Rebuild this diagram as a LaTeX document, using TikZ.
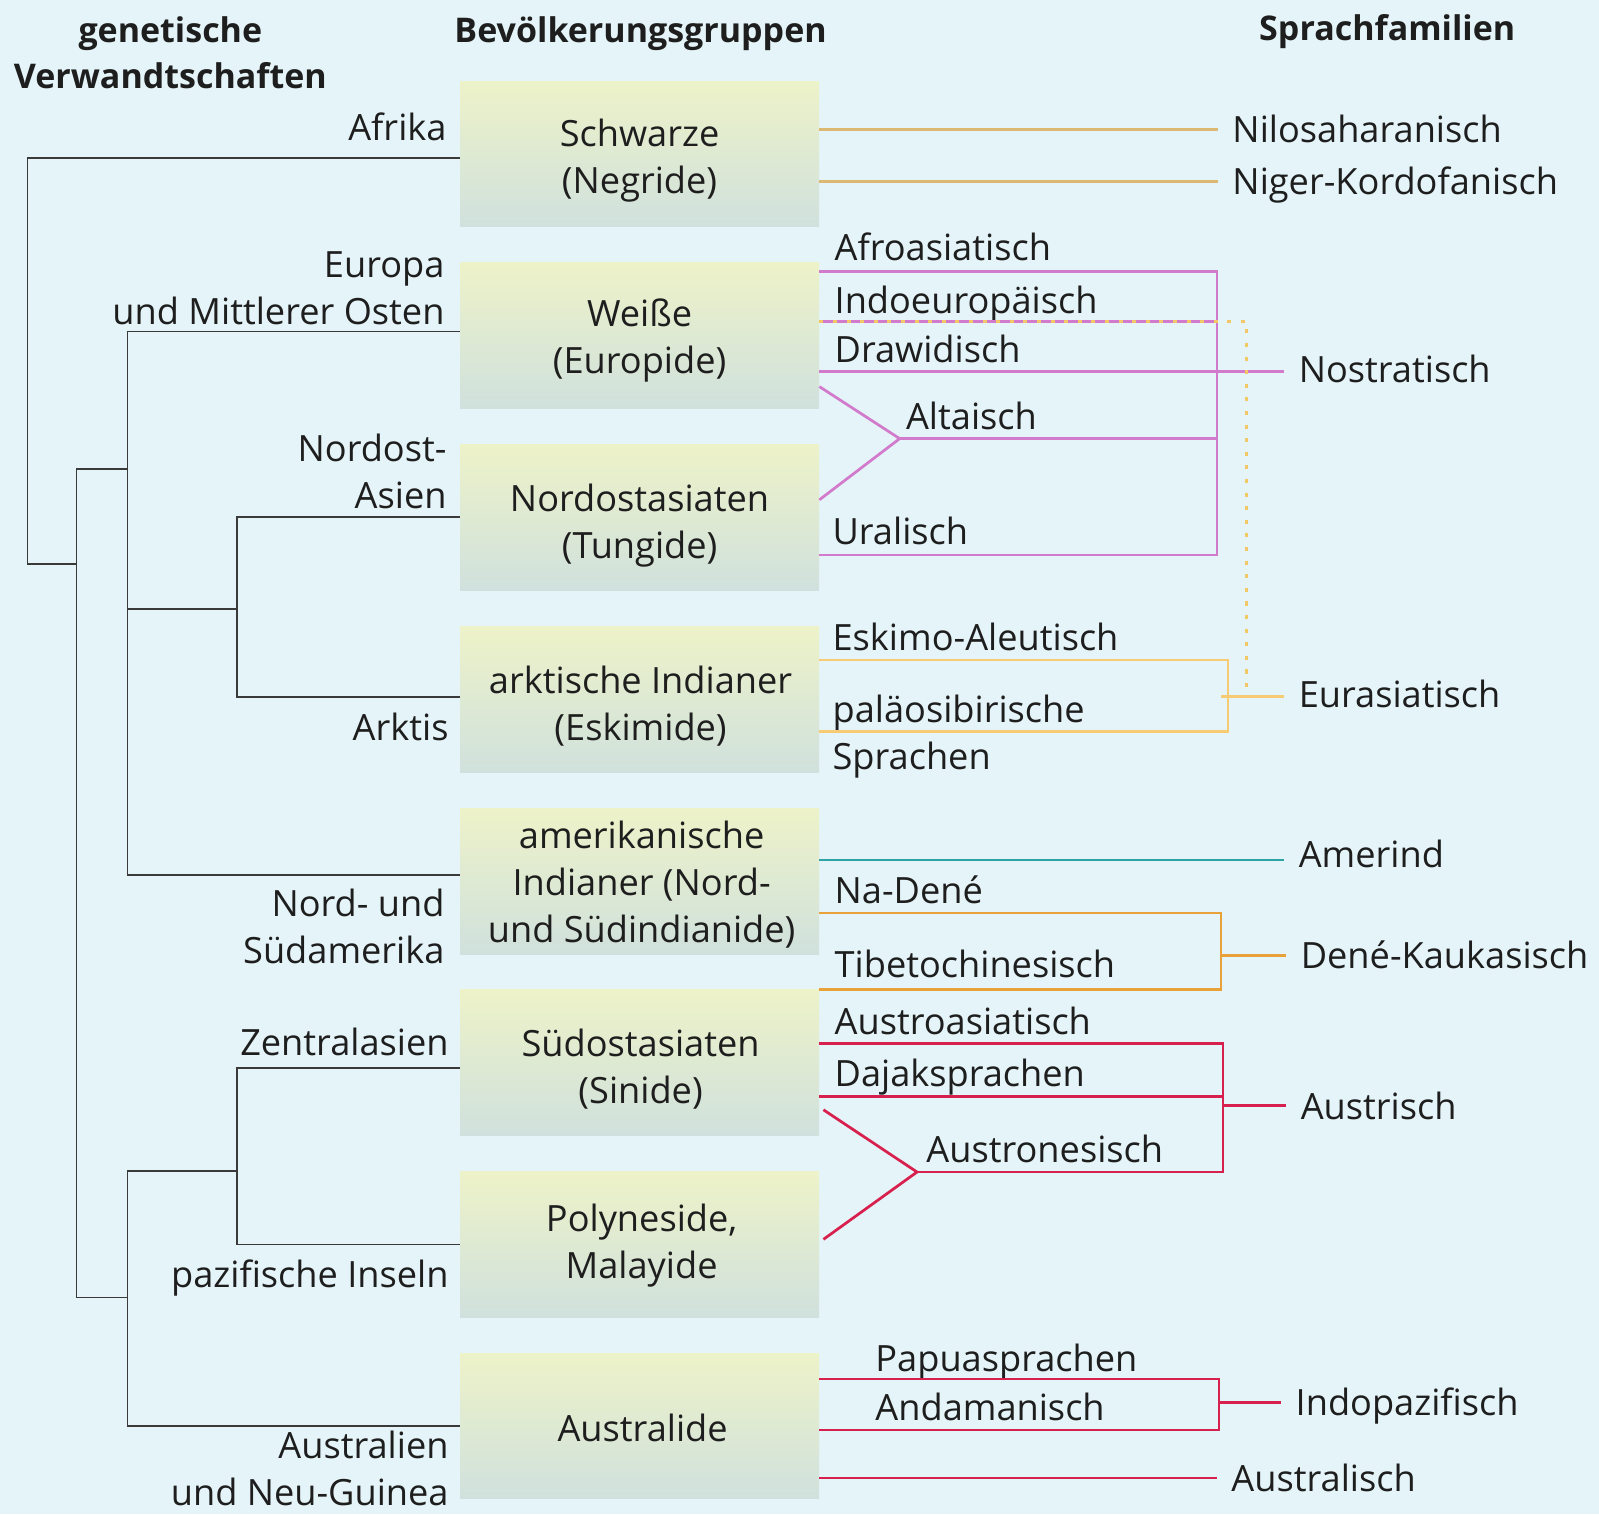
\documentclass[tikz,border=0pt]{standalone}
\usepackage{fontspec}
\setmainfont{Open Sans}
\usetikzlibrary{calc}
\definecolor{bg}{HTML}{E4F4F8}
\definecolor{boxtop}{HTML}{EDF2C8}
\definecolor{boxbot}{HTML}{D0E1DD}
\definecolor{treeC}{HTML}{3A3A3A}
\definecolor{txtC}{HTML}{1E1E1E}
\definecolor{tanC}{HTML}{DDB873}
\definecolor{pinkC}{HTML}{D27ACB}
\definecolor{yelC}{HTML}{F2C766}
\definecolor{euraC}{HTML}{F6CB72}
\definecolor{tealC}{HTML}{2EA3A5}
\definecolor{orC}{HTML}{E9A23A}
\definecolor{redC}{HTML}{D8204F}
\begin{document}
\begin{tikzpicture}[x=0.75pt,y=-0.75pt,
  every node/.style={font=\fontsize{26.6}{34.5}\selectfont, text=txtC},
  grp/.style={minimum width=264pt, minimum height=107.25pt, inner sep=0pt, top color=boxtop, bottom color=boxbot},
  gtxt/.style={inner sep=0pt, align=center},
  hdr/.style={font=\fontsize{25}{33.75}\selectfont\bfseries, inner sep=0pt},
  lab/.style={inner sep=0pt},
  sub/.style={inner sep=0pt, anchor=mid west},
  fam/.style={inner xsep=10.5pt, inner ysep=0pt, anchor=mid west},
  tree/.style={draw=treeC, line width=1.4pt},
  tanL/.style={draw=tanC, line width=2pt},
  pinkL/.style={draw=pinkC, line width=2pt},
  yelD/.style={draw=yelC, line width=2pt, dash pattern=on 3pt off 7pt},
  euraL/.style={draw=euraC, line width=2pt},
  tealL/.style={draw=tealC, line width=2pt},
  orL/.style={draw=orC, line width=2pt},
  redL/.style={draw=redC, line width=2pt}
]
\useasboundingbox (0,0) rectangle (1567.6,1484.3);
\fill[bg] (0,0) rectangle (1567.6,1484.3);

% headers
\node[hdr, align=center] (hGen) at (167,52) {genetische\\Verwandtschaften};
\node[hdr, anchor=mid] (hBev) at (628,38) {Bevölkerungsgruppen};
\node[hdr, anchor=mid] (hSpr) at (1360,36) {Sprachfamilien};

% population boxes
\node[grp] (b1) at (627,151) {};
\node[grp] (b2) at (627,329) {};
\node[grp] (b3) at (627,507) {};
\node[grp] (b4) at (627,686) {};
\node[grp] (b5) at (627,864) {};
\node[grp] (b6) at (627,1042) {};
\node[grp] (b7) at (627,1220) {};
\node[grp] (b8) at (627,1398) {};
\node[gtxt] (b1t) at ($(b1.center)+(0,6)$) {Schwarze\\(Negride)};
\node[gtxt] (b2t) at ($(b2.center)+(0,4.5)$) {Weiße\\(Europide)};
\node[gtxt] (b3t) at ($(b3.center)+(0,8.5)$) {Nordostasiaten\\(Tungide)};
\node[gtxt] (b4t) at ($(b4.center)+(1,6.5)$) {arktische Indianer\\(Eskimide)};
\node[gtxt] (b5t) at ($(b5.center)+(2,3)$) {amerikanische\\Indianer (Nord-\\und Südindianide)};
\node[gtxt] (b6t) at ($(b6.center)+(1,6)$) {Südostasiaten\\(Sinide)};
\node[gtxt] (b7t) at ($(b7.center)+(2,1)$) {Polyneside,\\Malayide};
\node[gtxt] (b8t) at ($(b8.center)+(3,2)$) {Australide};

% region labels
\node[lab, anchor=mid east] (lAfr) at (438,134) {Afrika};
\node[lab, anchor=east, align=right] (lEur) at (436,283) {Europa\\und Mittlerer Osten};
\node[lab, anchor=east, align=right] (lNO) at (438,462) {Nordost-\\Asien};
\node[lab, anchor=mid east] (lArk) at (440,722) {Arktis};
\node[lab, anchor=east, align=right] (lAm) at (436,908) {Nord- und\\Südamerika};
\node[lab, anchor=mid east] (lZA) at (440,1031) {Zentralasien};
\node[lab, anchor=mid east] (lPI) at (440,1259) {pazifische Inseln};
\node[lab, anchor=east, align=right] (lAu) at (440,1440) {Australien\\und Neu-Guinea};

% genetic tree
\draw[tree] ([yshift=-3pt]b1.west) -| (27,553) -- (75,553);
\draw[tree] (125,460) -- (75,460) -- (75,1272) -- (125,1272);
\draw[tree] ([yshift=3pt]b2.west) -| (125,858) -- ([yshift=4.5pt]b5.west);
\draw[tree] (125,597) -- (232,597);
\draw[tree] (b3.west) -| (232,683) -- ([yshift=2.25pt]b4.west);
\draw[tree] (232,1148) -| (125,1398) -- (b8.west);
\draw[tree] ([yshift=-3.75pt]b6.west) -| (232,1220) -- (b7.west);

% language family labels
\node[fam] (nilo) at (1194,136) {Nilosaharanisch};
\node[fam] (niger) at (1194,187) {Niger-Kordofanisch};
\node[fam] (nost) at (1259,371) {Nostratisch};
\node[fam] (eura) at (1259,690) {Eurasiatisch};
\node[fam] (amer) at (1259,847) {Amerind};
\node[fam] (dene) at (1261,946) {Dené-Kaukasisch};
\node[fam] (austr) at (1261,1094) {Austrisch};
\node[fam] (indo) at (1256,1384) {Indopazifisch};
\node[fam] (austral) at (1193,1459) {Australisch};

% language labels
\node[sub] (afro) at (818,252) {Afroasiatisch};
\node[sub] (indoeu) at (818,304) {Indoeuropäisch};
\node[sub] (drawi) at (818,352) {Drawidisch};
\node[sub] (alt) at (888,417) {Altaisch};
\node[sub] (ural) at (816,530) {Uralisch};
\node[sub] (eskimo) at (816,634) {Eskimo-Aleutisch};
\node[inner sep=0pt, anchor=west, align=left] (palaeo) at (816,722) {paläosibirische\\Sprachen};
\node[sub] (nadene) at (818,882) {Na-Dené};
\node[sub] (tibet) at (818,955) {Tibetochinesisch};
\node[sub] (austroas) at (818,1011) {Austroasiatisch};
\node[sub] (dajak) at (818,1062) {Dajaksprachen};
\node[sub] (austron) at (908,1136) {Austronesisch};
\node[sub] (papua) at (858,1341) {Papuasprachen};
\node[sub] (andam) at (858,1389) {Andamanisch};

% line levels
\coordinate (niloY) at (1194,127);
\coordinate (nigerY) at (1194,178);
\coordinate (amerY) at (1259,843);
\coordinate (australY) at (1193,1449);

% African
\draw[tanL] (b1.east |- niloY) -- (nilo.west |- niloY);
\draw[tanL] (b1.east |- nigerY) -- (niger.west |- nigerY);

% Nostratisch
\coordinate (nA) at (1193,266);
\coordinate (nI) at (1193,315);
\coordinate (nD) at (1193,364);
\coordinate (nL) at (1193,430);
\coordinate (nU) at (1193,544);
\coordinate (altApex) at (882,430);
\draw[pinkL] (b2.east |- nA) -- (nA) -- (nU) -- (b3.east |- nU);
\draw[pinkL] (b2.east |- nI) -- (nI);
\draw[pinkL] (b2.east |- nD) -- (nost.west |- nD);
\draw[pinkL] ($(b2.east)+(0,50)$) -- (altApex) -- ($(b3.east)+(0,-17)$);
\draw[pinkL] (altApex) -- (nL);

% Eurasiatisch
\coordinate (eE) at (1204,647);
\coordinate (eP) at (1204,717);
\coordinate (eM) at (1204,683);
\coordinate (eJ) at (1222,683);
\draw[yelD] (b2.east |- nI) -- (nI -| eJ) -- (eJ);
\draw[euraL] (b4.east |- eE) -- (eE) -- (eP) -- (b4.east |- eP);
\draw[euraL] ([xshift=-5pt]eM) -- (eura.west |- eM);

% Amerind
\draw[tealL] (b5.east |- amerY) -- (amer.west |- amerY);

% Dene-Kaukasisch
\coordinate (dN) at (1197,895);
\coordinate (dT) at (1197,970);
\coordinate (dM) at (1197,937);
\draw[orL] (b5.east |- dN) -- (dN) -- (dT) -- (b6.east |- dT);
\draw[orL] (dM) -- (dene.west |- dM);

% Austrisch
\coordinate (aA) at (1199,1023);
\coordinate (aD) at (1199,1075);
\coordinate (aN) at (1199,1149);
\coordinate (aM) at (1199,1084);
\coordinate (anApex) at (899,1149);
\draw[redL] (b6.east |- aA) -- (aA) -- (aN) -- (anApex);
\draw[redL] (b6.east |- aD) -- (aD);
\draw[redL] ($(b6.east)+(4,46)$) -- (anApex) -- ($(b7.east)+(4,-5)$);
\draw[redL] (aM) -- (austr.west |- aM);

% Indopazifisch
\coordinate (iP) at (1195,1352);
\coordinate (iA) at (1195,1402);
\coordinate (iM) at (1195,1375);
\draw[redL] (b8.east |- iP) -- (iP) -- (iA) -- (b8.east |- iA);
\draw[redL] (iM) -- (indo.west |- iM);
\draw[redL] (b8.east |- australY) -- (austral.west |- australY);
\end{tikzpicture}
\end{document}
